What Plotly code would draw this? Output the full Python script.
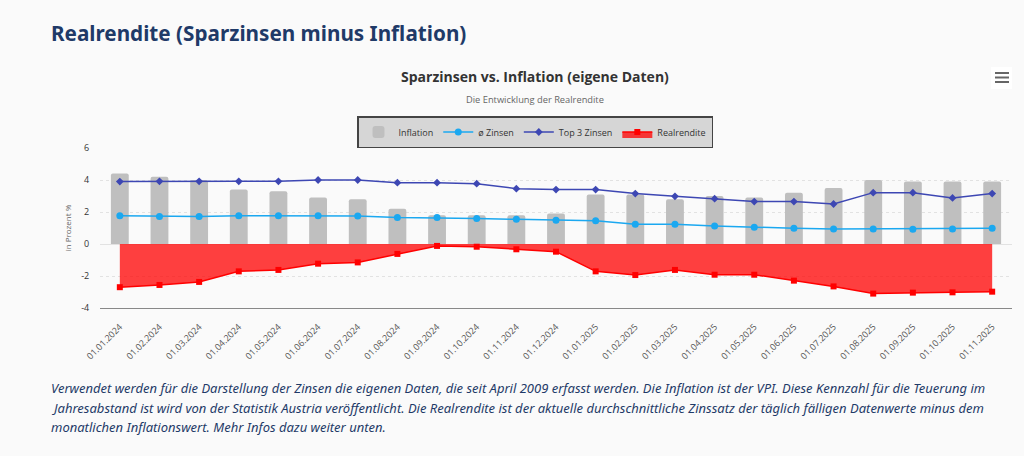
import plotly.graph_objects as go

dates = ["01.01.2024", "01.02.2024", "01.03.2024", "01.04.2024", "01.05.2024", "01.06.2024",
         "01.07.2024", "01.08.2024", "01.09.2024", "01.10.2024", "01.11.2024", "01.12.2024",
         "01.01.2025", "01.02.2025", "01.03.2025", "01.04.2025", "01.05.2025", "01.06.2025",
         "01.07.2025", "01.08.2025", "01.09.2025", "01.10.2025", "01.11.2025"]
inflation = [4.4, 4.2, 4.0, 3.4, 3.3, 2.9, 2.8, 2.2, 1.8, 1.8, 1.8, 1.9,
             3.1, 3.1, 2.8, 3.0, 2.9, 3.2, 3.5, 4.0, 3.9, 3.9, 3.9]
avg_rate = [1.76, 1.72, 1.72, 1.77, 1.77, 1.76, 1.75, 1.66, 1.65, 1.6, 1.54, 1.49,
            1.46, 1.24, 1.24, 1.13, 1.04, 0.98, 0.93, 0.94, 0.92, 0.94, 0.98]
top3_rate = [3.9, 3.92, 3.92, 3.92, 3.92, 4.0, 4.0, 3.83, 3.83, 3.77, 3.46, 3.4,
             3.4, 3.15, 2.98, 2.83, 2.65, 2.65, 2.5, 3.21, 3.21, 2.88, 3.15]
real_return = [-2.7, -2.56, -2.37, -1.71, -1.62, -1.23, -1.15, -0.62, -0.12, -0.17, -0.33, -0.48,
               -1.71, -1.94, -1.62, -1.92, -1.92, -2.29, -2.65, -3.1, -3.04, -3.02, -2.98]
y_ticks = [-4, -2, 0, 2, 4, 6]

W, H = 1024, 456
L, R, T, B = 100, 12, 148, 148
PW, PH = W - L - R, H - T - B


def px(x):
    return (x - L) / PW


def py(y):
    return (H - B - y) / PH


fig = go.Figure()
fig.add_trace(go.Bar(
    x=dates, y=inflation, name="Inflation", width=0.45,
    marker=dict(color="#bfbfbf", cornerradius=2, line=dict(width=0)),
))
fig.add_trace(go.Scatter(
    x=dates, y=avg_rate, name="ø Zinsen", mode="lines+markers",
    line=dict(color="#1ba8f0", width=1.5),
    marker=dict(symbol="circle", size=7, color="#1ba8f0"),
))
fig.add_trace(go.Scatter(
    x=dates, y=top3_rate, name="Top 3 Zinsen", mode="lines+markers",
    line=dict(color="#3d47b3", width=1.5),
    marker=dict(symbol="diamond", size=6, color="#3d47b3"),
))
fig.add_trace(go.Scatter(
    x=dates, y=real_return, name="Realrendite", mode="lines+markers",
    fill="tozeroy", fillcolor="rgba(255,0,0,0.75)",
    line=dict(color="#ff0000", width=1.5),
    marker=dict(symbol="square", size=6, color="#ff0000"),
))

bg = "#fafafa"
navy = "#1f3a68"
cap_font = dict(family="Noto Sans", size=13, color=navy)

fig.update_layout(
    width=W, height=H,
    margin=dict(l=L, r=R, t=T, b=B, autoexpand=False),
    paper_bgcolor=bg, plot_bgcolor=bg,
    font=dict(family="Open Sans", size=9, color="#333333"),
    showlegend=True,
    legend=dict(
        orientation="h", x=px(535), xanchor="center", y=py(116), yanchor="top",
        bgcolor="#d6d6d6", bordercolor="#444444", borderwidth=1.5,
        font=dict(family="Open Sans", size=9, color="#333333"),
        itemwidth=30, traceorder="normal",
    ),
    xaxis=dict(
        type="category", range=[-0.5, len(dates) - 0.5],
        tickangle=-45, tickfont=dict(family="Open Sans", size=9, color="#555555"),
        showgrid=False, showline=True, linecolor="#888888", linewidth=1,
        ticks="outside", ticklen=9, tickcolor="rgba(0,0,0,0)",
        zeroline=False, fixedrange=True,
    ),
    yaxis=dict(
        range=[-4, 6], tickvals=y_ticks, ticktext=[str(v) for v in y_ticks],
        tickfont=dict(family="Open Sans", size=9, color="#333333"),
        showgrid=True, gridcolor="#e2e2e2", griddash="dot", gridwidth=1,
        zeroline=True, zerolinecolor="#e2e2e2", zerolinewidth=1,
        ticks="outside", ticklen=8, tickcolor="rgba(0,0,0,0)",
        title=dict(text="in Prozent %", font=dict(family="Open Sans", size=8, color="#666666"), standoff=8),
        fixedrange=True,
    ),
    annotations=[
        dict(text="<b>Realrendite (Sparzinsen minus Inflation)</b>", xref="paper", yref="paper",
             x=px(49), y=py(33), xanchor="left", yanchor="middle", showarrow=False,
             font=dict(family="Noto Sans", size=20.7, color=navy)),
        dict(text="<b>Sparzinsen vs. Inflation (eigene Daten)</b>", xref="paper", yref="paper",
             x=px(535), y=py(77), xanchor="center", yanchor="middle", showarrow=False,
             font=dict(family="Open Sans", size=14, color="#333333")),
        dict(text="Die Entwicklung der Realrendite", xref="paper", yref="paper",
             x=px(535), y=py(99), xanchor="center", yanchor="middle", showarrow=False,
             font=dict(family="Open Sans", size=9.3, color="#666666")),
        dict(text="<i>Verwendet werden für die Darstellung der Zinsen die eigenen Daten, die seit April 2009 erfasst werden. Die Inflation ist der VPI. Diese Kennzahl für die Teuerung im</i>",
             xref="paper", yref="paper", x=px(49), y=py(388), xanchor="left", yanchor="middle",
             showarrow=False, font=cap_font),
        dict(text="<i>Jahresabstand ist wird von der Statistik Austria veröffentlicht. Die Realrendite ist der aktuelle durchschnittliche Zinssatz der täglich fälligen Datenwerte minus dem</i>",
             xref="paper", yref="paper", x=px(49), y=py(408), xanchor="left", yanchor="middle",
             showarrow=False, font=cap_font),
        dict(text="<i>monatlichen Inflationswert. Mehr Infos dazu weiter unten.</i>",
             xref="paper", yref="paper", x=px(49), y=py(427), xanchor="left", yanchor="middle",
             showarrow=False, font=cap_font),
    ],
    shapes=[
        dict(type="rect", xref="paper", yref="paper", x0=px(991), x1=px(1012), y0=py(67), y1=py(89),
             fillcolor="#ffffff", line=dict(width=0), layer="below"),
        dict(type="line", xref="paper", yref="paper", x0=px(995), x1=px(1009), y0=py(73), y1=py(73),
             line=dict(color="#666666", width=2)),
        dict(type="line", xref="paper", yref="paper", x0=px(995), x1=px(1009), y0=py(77.5), y1=py(77.5),
             line=dict(color="#666666", width=2)),
        dict(type="line", xref="paper", yref="paper", x0=px(995), x1=px(1009), y0=py(82), y1=py(82),
             line=dict(color="#666666", width=2)),
    ],
)

fig.write_html(
    "out.html",
    config={"displayModeBar": False},
    post_script="document.body.style.margin='0';document.body.style.overflow='hidden';"
                "document.body.style.background='#fafafa';",
)
